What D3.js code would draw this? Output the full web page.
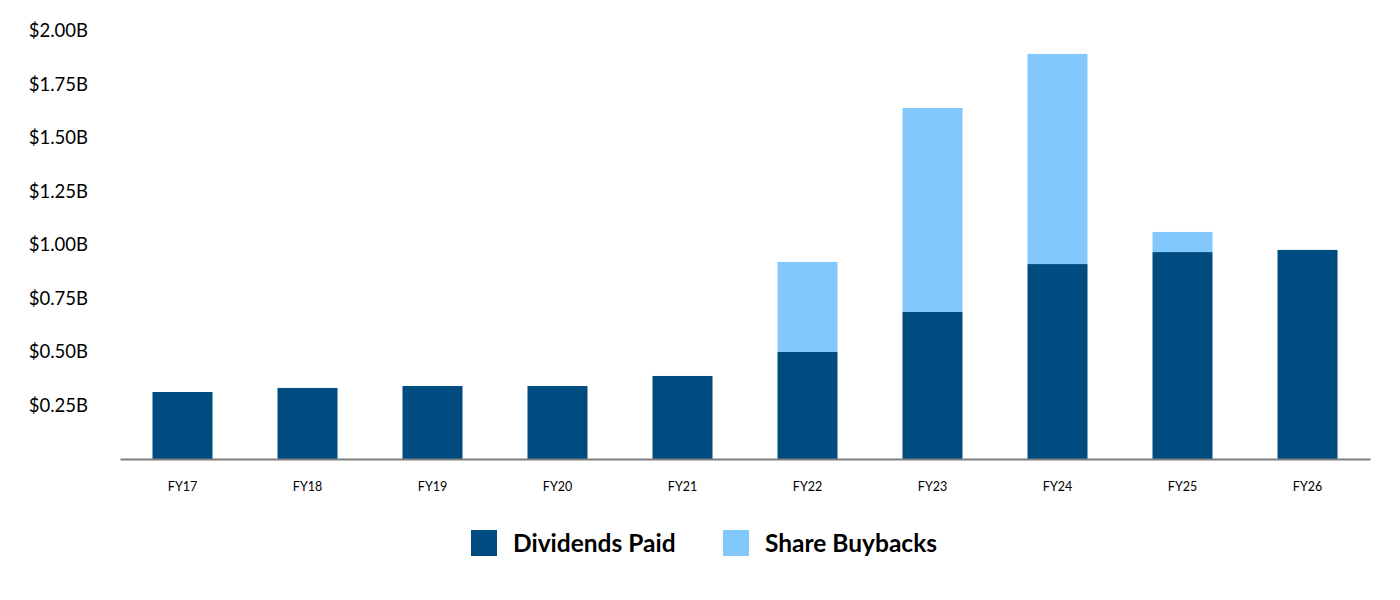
<!DOCTYPE html>
<html>
<head>
<meta charset="utf-8">
<script src="https://cdn.jsdelivr.net/npm/d3@7"></script>
<style>
  body { margin: 0; background: #fff; }
  text { font-family: Lato, "Open Sans", sans-serif; fill: #000; }
</style>
</head>
<body>
<div id="chart"></div>
<script>
// data (billions of $)
var years     = ["FY17","FY18","FY19","FY20","FY21","FY22","FY23","FY24","FY25","FY26"];
var dividends = [0.313, 0.332, 0.341, 0.341, 0.388, 0.500, 0.687, 0.911, 0.967, 0.977];
var buybacks  = [0,     0,     0,     0,     0,     0.421, 0.953, 0.982, 0.094, 0];
var yTicks    = [0.25, 0.5, 0.75, 1.0, 1.25, 1.5, 1.75, 2.0];
var seriesNames = ["Dividends Paid", "Share Buybacks"];
var colors    = ["#004b7f", "#83c8fc"];

var width = 1400, height = 600;

var svg = d3.select("#chart").append("svg")
  .attr("width", width)
  .attr("height", height);

var x = d3.scaleBand()
  .domain(years)
  .range([120, 1370])
  .paddingInner(0.52)
  .paddingOuter(0.26);

var y = d3.scaleLinear()
  .domain([0, 2])
  .range([459, 31]);

var rows = years.map(function(yr, i){
  return {year: yr, div: dividends[i], buy: buybacks[i]};
});

var stack = d3.stack().keys(["div", "buy"]);
var layers = stack(rows);

svg.selectAll("g.layer")
  .data(layers)
  .enter()
  .append("g")
  .attr("class", "layer")
  .attr("fill", function(d, i){ return colors[i]; })
  .selectAll("rect")
  .data(function(d){ return d; })
  .enter()
  .append("rect")
  .filter(function(d){ return d[1] - d[0] > 0; })
  .attr("x", function(d){ return x(d.data.year); })
  .attr("width", x.bandwidth())
  .attr("y", function(d){ return y(d[1]); })
  .attr("height", function(d){ return y(d[0]) - y(d[1]); });

// y labels, no axis line
var yAxis = svg.append("g")
  .attr("transform", "translate(88,0)")
  .call(d3.axisLeft(y).tickValues(yTicks).tickSize(0).tickPadding(0)
    .tickFormat(function(d){ return "$" + d3.format(".2f")(d) + "B"; }));
yAxis.select(".domain").remove();
yAxis.selectAll("text")
  .style("font-size", "18.5px")
  .style("font-family", "Lato, sans-serif")
  .attr("fill", "#000");

// x axis
var xAxis = svg.append("g")
  .attr("transform", "translate(0,459)")
  .call(d3.axisBottom(x).tickSize(0).tickPadding(23).tickSizeOuter(0));
xAxis.select(".domain")
  .attr("stroke", "#7f7f7f")
  .attr("stroke-width", 2);
xAxis.selectAll("text")
  .style("font-size", "12.5px")
  .style("font-family", "Lato, sans-serif")
  .attr("fill", "#000");

// legend
var legendX = [471, 723];
var legend = svg.selectAll("g.legend")
  .data(seriesNames)
  .enter()
  .append("g")
  .attr("class", "legend")
  .attr("transform", function(d, i){ return "translate(" + legendX[i] + ",530)"; });

legend.append("rect")
  .attr("width", 26)
  .attr("height", 26)
  .attr("fill", function(d, i){ return colors[i]; });

legend.append("text")
  .attr("x", 42)
  .attr("y", 22)
  .style("font-size", "24.5px")
  .style("font-weight", "bold")
  .text(function(d){ return d; });
</script>
</body>
</html>
